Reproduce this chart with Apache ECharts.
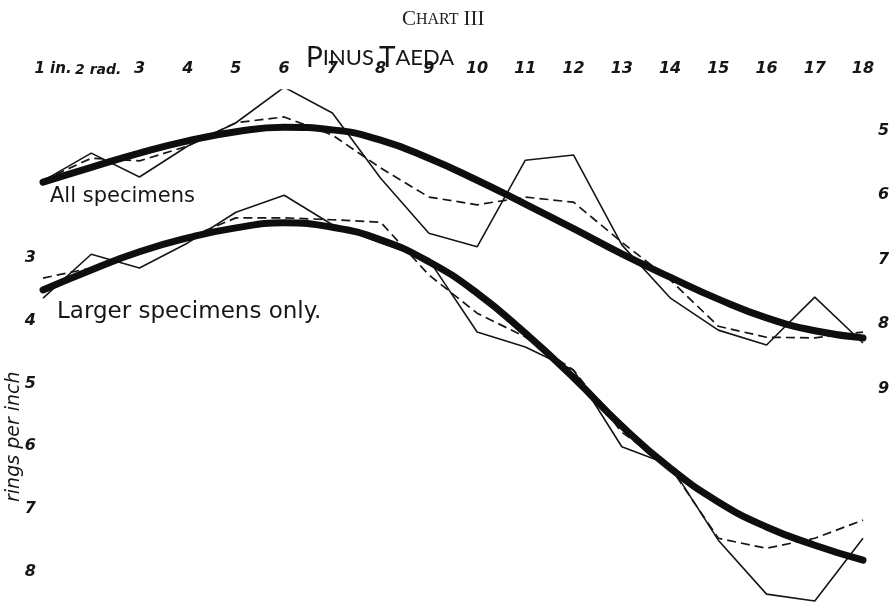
<!DOCTYPE html>
<html>
<head>
<meta charset="utf-8">
<script src="https://cdn.jsdelivr.net/npm/echarts@6/dist/echarts.min.js"></script>
<style>
html,body{margin:0;padding:0;background:#fff;}
#chart{width:893px;height:603px;}
</style>
</head>
<body>
<div id="chart"></div>
<script>
// Ring positions (inches from pith)
const categories = ['1 in.', '2 rad.', '3', '4', '5', '6', '7', '8', '9', '10', '11', '12', '13', '14', '15', '16', '17', '18'];

// All specimens (right-hand scale, rings per inch)
const allObserved = [5.78, 5.35, 5.72, 5.24, 4.88, 4.33, 4.73, 5.74, 6.59, 6.80, 5.46, 5.38, 6.77, 7.59, 8.09, 8.32, 7.58, 8.29];
const allAveraged = [5.77, 5.43, 5.47, 5.24, 4.88, 4.79, 5.07, 5.58, 6.03, 6.15, 6.03, 6.11, 6.73, 7.31, 8.03, 8.20, 8.21, 8.12];
const allSmoothed = [5.80, 5.57, 5.35, 5.16, 5.02, 4.95, 4.99, 5.15, 5.43, 5.77, 6.14, 6.52, 6.91, 7.27, 7.61, 7.90, 8.10, 8.21];

// Larger specimens only (left-hand scale, rings per inch)
const largeObserved = [3.64, 2.94, 3.16, 2.76, 2.27, 2.00, 2.47, 2.76, 3.03, 4.18, 4.42, 4.79, 6.01, 6.30, 7.50, 8.36, 8.47, 7.47];
const largeAveraged = [3.32, 3.16, 2.90, 2.68, 2.36, 2.36, 2.39, 2.43, 3.27, 3.88, 4.26, 4.79, 5.78, 6.33, 7.47, 7.63, 7.47, 7.18];
const largeSmoothed = [3.51, 3.19, 2.90, 2.68, 2.52, 2.44, 2.51, 2.71, 3.06, 3.56, 4.20, 4.91, 5.68, 6.35, 6.89, 7.29, 7.58, 7.82];

// Tick labels
const leftTicks = [3, 4, 5, 6, 7, 8];
const rightTicks = [5, 6, 7, 8, 9];

const ink = '#161616';
const handFont = { fontFamily: 'DejaVu Sans', fontStyle: 'italic', fontWeight: 'bold', fontSize: 16, color: ink };

const chart = echarts.init(document.getElementById('chart'), null, { renderer: 'canvas' });

function thin(name, data, axis) {
  return { name, type: 'line', yAxisIndex: axis, data, symbol: 'none', z: 2,
    lineStyle: { color: ink, width: 1.6 } };
}
function dashed(name, data, axis) {
  return { name, type: 'line', yAxisIndex: axis, data, symbol: 'none', z: 2,
    lineStyle: { color: ink, width: 1.7, type: [9, 5] } };
}
function thick(name, data, axis) {
  return { name, type: 'line', yAxisIndex: axis, data, symbol: 'none', smooth: 0.5, z: 3,
    lineStyle: { color: '#0e0e0e', width: 7, cap: 'round' } };
}

const option = {
  backgroundColor: '#ffffff',
  animation: false,
  title: [
    {
      text: '{a|C}{b|HART} {a|III}',
      left: 397, top: 4,
      textStyle: { rich: {
        a: { fontFamily: 'Liberation Serif', fontWeight: 'normal', fontSize: 21, color: '#222' },
        b: { fontFamily: 'Liberation Serif', fontWeight: 'normal', fontSize: 16, color: '#222' }
      } }
    },
    {
      text: '{a|P}{b|INUS} {a|T}{b|AEDA}',
      left: 301, top: 39,
      textStyle: { rich: {
        a: { fontFamily: 'Lato', fontWeight: 'normal', fontSize: 28, color: ink },
        b: { fontFamily: 'Lato', fontWeight: 'normal', fontSize: 22, color: ink }
      } }
    }
  ],
  grid: { left: 43, right: 30, top: 90, bottom: 0, containLabel: false },
  xAxis: {
    type: 'category', data: categories, boundaryGap: false, position: 'top',
    axisLine: { show: false }, axisTick: { show: false }, splitLine: { show: false },
    axisLabel: Object.assign({}, handFont, {
      interval: 0, margin: 13,
      formatter: function (v, i) {
        if (i === 0) return '{p0|' + v + '}';
        if (i === 1) return '{p1|' + v + '}';
        return v;
      },
      rich: {
        p0: Object.assign({}, handFont, { fontSize: 15, padding: [0, 0, 0, 20] }),
        p1: Object.assign({}, handFont, { fontSize: 14, padding: [0, 0, 0, 14] })
      }
    })
  },
  yAxis: [
    {
      type: 'value', position: 'left', inverse: true, min: 0.321, max: 8.502,
      axisLine: { show: false }, axisTick: { show: false }, splitLine: { show: false },
      axisLabel: Object.assign({}, handFont, { margin: 7, customValues: leftTicks,
        formatter: function (v) { return leftTicks.indexOf(v) >= 0 ? String(v) : ''; } })
    },
    {
      type: 'value', position: 'right', inverse: true, min: 4.373, max: 12.314,
      axisLine: { show: false }, axisTick: { show: false }, splitLine: { show: false },
      axisLabel: Object.assign({}, handFont, { margin: 15, customValues: rightTicks,
        formatter: function (v) { return rightTicks.indexOf(v) >= 0 ? String(v) : ''; } })
    }
  ],
  graphic: [
    { type: 'text', left: 50, top: 186, style: { text: 'All specimens', fontFamily: 'DejaVu Sans', fontSize: 21, fill: ink } },
    { type: 'text', left: 57, top: 301, style: { text: 'Larger specimens only.', fontFamily: 'DejaVu Sans', fontSize: 23, fill: ink } },
    { type: 'text', x: 5, y: 502, rotation: Math.PI / 2,
      style: { text: 'rings per inch', fontFamily: 'DejaVu Sans', fontStyle: 'italic', fontSize: 19, fill: ink, textVerticalAlign: 'top' } }
  ],
  series: [
    thin('All specimens – observed', allObserved, 1),
    dashed('All specimens – averaged', allAveraged, 1),
    thin('Larger specimens – observed', largeObserved, 0),
    dashed('Larger specimens – averaged', largeAveraged, 0),
    thick('All specimens – smoothed', allSmoothed, 1),
    thick('Larger specimens – smoothed', largeSmoothed, 0)
  ]
};

chart.setOption(option);
</script>
</body>
</html>
